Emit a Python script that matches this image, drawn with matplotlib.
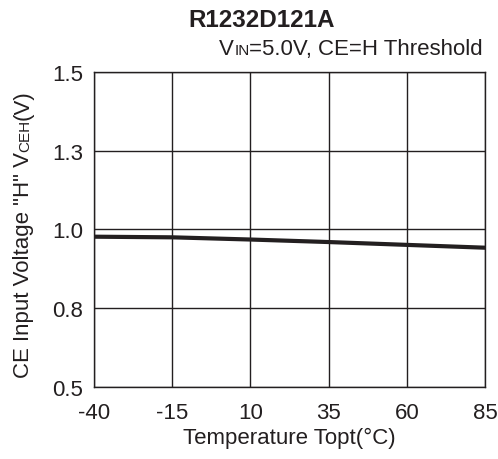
import matplotlib
matplotlib.use("Agg")
import matplotlib.pyplot as plt

plt.rcParams['font.family'] = ['Liberation Sans', 'DejaVu Sans']
plt.rcParams['axes.unicode_minus'] = False

# data
temps = [-40, -15, 10, 35, 60, 85]
vceh = [0.977, 0.975, 0.968, 0.960, 0.951, 0.942]
xticks = [-40, -15, 10, 35, 60, 85]
yticks = [0.5, 0.75, 1.0, 1.25, 1.5]
ytick_labels = ['0.5', '0.8', '1.0', '1.3', '1.5']

INK = '#231f20'


def draw_pieces(fig, pieces, x, y, rotation=0, align='right'):
    # draw text pieces (text, size) one after another, in figure coords
    r = fig.canvas.get_renderer()
    arts = []
    for txt, size in pieces:
        t = fig.text(0, 0, txt, fontsize=size, rotation=rotation, color=INK,
                     ha='left', va='baseline', rotation_mode='anchor')
        arts.append(t)
    fw, fh = fig.bbox.width, fig.bbox.height
    lens = []
    for t in arts:
        bb = t.get_window_extent(r)
        lens.append((bb.width if rotation == 0 else bb.height))
    total = sum(lens)
    if rotation == 0:
        start = x - total / fw if align == 'right' else x - total / fw / 2
        pos = start
        for t, l in zip(arts, lens):
            t.set_position((pos, y))
            pos += l / fw
    else:
        pos = y - total / fh / 2
        for t, l in zip(arts, lens):
            t.set_position((x, pos))
            pos += l / fh


fig = plt.figure(figsize=(4.98, 4.6), dpi=100)
ax = fig.add_axes([0.189, 0.157, 0.785, 0.684])
ax.plot(temps, vceh, color=INK, lw=3)
ax.set_xlim(-40, 85)
ax.set_ylim(0.5, 1.5)
ax.set_xticks(xticks)
ax.set_yticks(yticks)
ax.set_yticklabels(ytick_labels)
ax.grid(True, color=INK, lw=1)
ax.tick_params(length=0, labelsize=16, colors=INK)
ax.tick_params(axis='x', pad=11)
ax.tick_params(axis='y', pad=8)
for s in ax.spines.values():
    s.set_color(INK)
    s.set_linewidth(1)
ax.set_xlabel('Temperature Topt(°C)', fontsize=16, color=INK, labelpad=3)

fig.text(0.525, 0.941, 'R1232D121A', fontsize=17.5, fontweight='bold',
         ha='center', va='baseline', color=INK)
draw_pieces(fig, [('V', 16), ('IN', 11), ('=5.0V, CE=H Threshold', 16)],
            0.970, 0.880)
draw_pieces(fig, [('CE Input Voltage "H" V', 16), ('CEH', 11), ('(V)', 16)],
            0.058, 0.491, rotation=90)

fig.savefig('out.png', dpi=100)
